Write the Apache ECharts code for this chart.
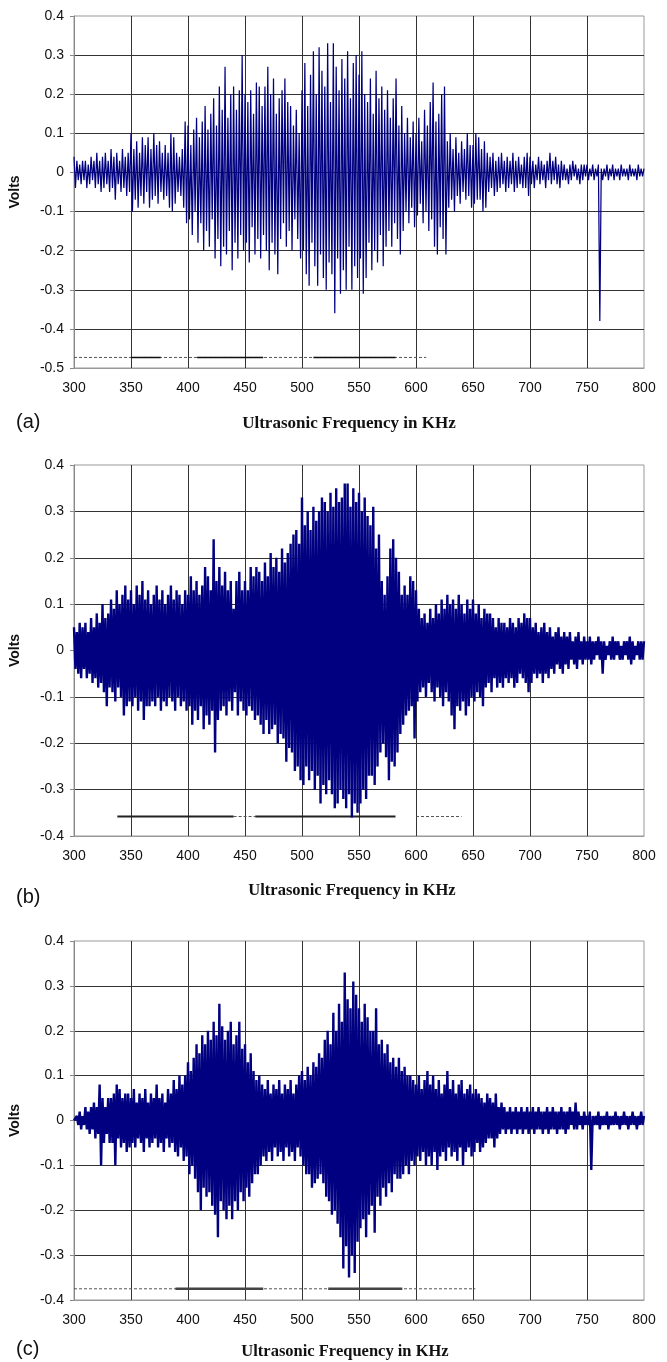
<!DOCTYPE html>
<html>
<head>
<meta charset="utf-8">
<title>Ultrasonic Frequency</title>
<style>
  html, body { margin: 0; padding: 0; background: #fff; }
  #container { width: 667px; height: 1362px; }
</style>
</head>
<body>
<div id="container"></div>
<script src="https://cdn.jsdelivr.net/npm/echarts@6/dist/echarts.min.js"></script>
<script>
var dom = document.getElementById("container");
var myChart = echarts.init(dom, null, { renderer: "canvas" });
var option;

// frequency sampling of the traces (KHz), one peak up and one peak down per step
var freqStart = 300;
var freqEnd = 800;
var freqStep = 2.5;
var freqInterval = 50;

var panelNames = ["(a)", "(b)", "(c)"];
var xTitle = "Ultrasonic Frequency in KHz";
var yTitle = "Volts";
var yMins = [-0.5, -0.4, -0.4];
var yMax = 0.4;
var yInterval = 0.1;

// (a) upper / lower peaks
var waveAHi = [
  0.04,0.03,0.02,0.03,0.03,0.02,0.04,0.03,0.05,0.03,0.04,0.05,0.03,0.06,0.04,0.05,0.03,0.06,0.04,0.05,
  0.10,0.06,0.08,0.05,0.09,0.07,0.09,0.06,0.10,0.07,0.08,0.05,0.07,0.05,0.10,0.09,0.05,0.04,0.06,0.13,
  0.12,0.07,0.11,0.14,0.09,0.13,0.17,0.11,0.15,0.19,0.12,0.22,0.16,0.27,0.14,0.20,0.22,0.16,0.21,0.30,
  0.20,0.18,0.21,0.15,0.23,0.22,0.17,0.22,0.27,0.20,0.24,0.15,0.19,0.21,0.24,0.18,0.17,0.12,0.16,0.10,
  0.21,0.28,0.17,0.25,0.31,0.20,0.32,0.26,0.22,0.33,0.18,0.33,0.27,0.21,0.29,0.24,0.31,0.19,0.28,0.30,
  0.25,0.31,0.20,0.18,0.24,0.15,0.26,0.19,0.22,0.16,0.21,0.14,0.19,0.24,0.12,0.17,0.10,0.14,0.09,0.13,
  0.10,0.14,0.08,0.16,0.12,0.18,0.23,0.13,0.15,0.20,0.22,0.08,0.10,0.06,0.09,0.05,0.08,0.06,0.10,0.07,
  0.07,0.10,0.09,0.06,0.08,0.05,0.04,0.05,0.03,0.04,0.05,0.03,0.04,0.03,0.05,0.03,0.04,0.02,0.04,0.05,
  0.04,0.03,0.02,0.04,0.03,0.02,0.03,0.05,0.03,0.04,0.02,0.03,0.02,0.01,0.02,0.03,0.02,0.01,0.02,0.02,
  0.02,0.01,0.02,0.01,0.02,0.01,0.01,0.02,0.01,0.02,0.01,0.01,0.02,0.01,0.01,0.02,0.01,0.01,0.02,0.01,0.01
];
var waveALo = [
  -0.04,-0.02,-0.03,-0.02,-0.04,-0.03,-0.02,-0.04,-0.03,-0.05,-0.04,-0.03,-0.05,-0.04,-0.07,-0.03,-0.05,-0.04,-0.06,-0.05,
  -0.10,-0.07,-0.09,-0.06,-0.08,-0.05,-0.09,-0.07,-0.06,-0.08,-0.05,-0.07,-0.06,-0.09,-0.10,-0.08,-0.05,-0.06,-0.09,-0.13,
  -0.12,-0.16,-0.10,-0.18,-0.13,-0.20,-0.15,-0.19,-0.12,-0.22,-0.17,-0.24,-0.19,-0.21,-0.15,-0.25,-0.18,-0.22,-0.16,-0.20,
  -0.18,-0.23,-0.14,-0.21,-0.17,-0.22,-0.16,-0.20,-0.25,-0.18,-0.21,-0.26,-0.17,-0.13,-0.19,-0.15,-0.20,-0.12,-0.17,-0.22,
  -0.20,-0.26,-0.29,-0.18,-0.24,-0.29,-0.21,-0.27,-0.30,-0.23,-0.26,-0.36,-0.22,-0.31,-0.25,-0.30,-0.19,-0.30,-0.24,-0.27,
  -0.22,-0.31,-0.27,-0.18,-0.25,-0.20,-0.23,-0.16,-0.24,-0.19,-0.15,-0.19,-0.13,-0.17,-0.21,-0.15,-0.10,-0.13,-0.09,-0.14,
  -0.11,-0.08,-0.13,-0.10,-0.15,-0.12,-0.19,-0.21,-0.14,-0.17,-0.21,-0.09,-0.07,-0.10,-0.06,-0.08,-0.05,-0.07,-0.06,-0.09,
  -0.08,-0.07,-0.07,-0.10,-0.09,-0.05,-0.04,-0.06,-0.05,-0.04,-0.03,-0.05,-0.04,-0.03,-0.05,-0.04,-0.03,-0.04,-0.04,-0.06,
  -0.03,-0.04,-0.02,-0.03,-0.02,-0.04,-0.02,-0.03,-0.02,-0.03,-0.04,-0.02,-0.02,-0.03,-0.02,-0.01,-0.02,-0.03,-0.02,-0.01,
  -0.02,-0.01,-0.02,-0.01,-0.38,-0.02,-0.01,-0.02,-0.01,-0.02,-0.01,-0.02,-0.01,-0.01,-0.02,-0.01,-0.01,-0.02,-0.01,-0.01,-0.01
];

// (b) upper / lower peaks
var waveBHi = [
  0.05,0.04,0.06,0.05,0.06,0.04,0.07,0.05,0.08,0.06,0.10,0.07,0.08,0.11,0.09,0.13,0.10,0.12,0.14,0.11,
  0.13,0.10,0.14,0.12,0.15,0.11,0.13,0.10,0.12,0.14,0.11,0.13,0.10,0.12,0.14,0.11,0.13,0.12,0.10,0.13,
  0.12,0.16,0.13,0.15,0.12,0.14,0.18,0.16,0.13,0.24,0.15,0.18,0.14,0.17,0.13,0.15,0.09,0.15,0.17,0.13,
  0.15,0.13,0.18,0.16,0.18,0.17,0.15,0.19,0.16,0.21,0.18,0.20,0.17,0.22,0.19,0.21,0.23,0.25,0.26,0.23,
  0.33,0.27,0.30,0.26,0.31,0.28,0.30,0.33,0.32,0.30,0.34,0.31,0.35,0.32,0.33,0.36,0.36,0.31,0.35,0.32,
  0.34,0.30,0.33,0.29,0.27,0.31,0.22,0.25,0.15,0.12,0.16,0.22,0.24,0.20,0.17,0.12,0.14,0.12,0.16,0.15,
  0.13,0.09,0.07,0.08,0.06,0.09,0.07,0.10,0.08,0.11,0.09,0.12,0.10,0.11,0.09,0.12,0.10,0.08,0.11,0.09,
  0.11,0.08,0.10,0.07,0.09,0.08,0.08,0.07,0.05,0.07,0.06,0.06,0.05,0.07,0.06,0.05,0.07,0.06,0.08,0.07,
  0.07,0.05,0.06,0.04,0.05,0.06,0.04,0.05,0.03,0.04,0.05,0.03,0.04,0.03,0.04,0.02,0.03,0.04,0.02,0.03,
  0.02,0.03,0.02,0.02,0.03,0.02,0.02,0.01,0.02,0.03,0.02,0.02,0.01,0.02,0.02,0.03,0.02,0.01,0.02,0.02,0.02
];
var waveBLo = [
  -0.04,-0.05,-0.06,-0.04,-0.06,-0.05,-0.07,-0.06,-0.08,-0.07,-0.09,-0.12,-0.08,-0.09,-0.11,-0.08,-0.10,-0.14,-0.12,-0.11,
  -0.12,-0.10,-0.13,-0.11,-0.15,-0.12,-0.12,-0.11,-0.12,-0.10,-0.13,-0.11,-0.12,-0.10,-0.11,-0.13,-0.10,-0.12,-0.11,-0.13,
  -0.12,-0.16,-0.13,-0.15,-0.12,-0.17,-0.14,-0.16,-0.13,-0.22,-0.15,-0.13,-0.12,-0.14,-0.11,-0.13,-0.09,-0.14,-0.11,-0.13,
  -0.14,-0.12,-0.13,-0.15,-0.14,-0.16,-0.18,-0.15,-0.18,-0.17,-0.16,-0.20,-0.18,-0.19,-0.24,-0.21,-0.22,-0.26,-0.25,-0.28,
  -0.29,-0.25,-0.28,-0.26,-0.30,-0.27,-0.33,-0.29,-0.31,-0.28,-0.31,-0.34,-0.33,-0.30,-0.32,-0.34,-0.31,-0.36,-0.33,-0.35,
  -0.33,-0.30,-0.32,-0.27,-0.27,-0.29,-0.25,-0.22,-0.20,-0.23,-0.28,-0.24,-0.25,-0.22,-0.18,-0.16,-0.14,-0.13,-0.12,-0.19,
  -0.11,-0.09,-0.08,-0.10,-0.07,-0.09,-0.11,-0.08,-0.10,-0.12,-0.09,-0.11,-0.14,-0.17,-0.12,-0.13,-0.11,-0.14,-0.12,-0.10,
  -0.11,-0.09,-0.10,-0.12,-0.08,-0.07,-0.09,-0.06,-0.08,-0.07,-0.08,-0.06,-0.07,-0.06,-0.08,-0.07,-0.05,-0.06,-0.07,-0.09,
  -0.07,-0.05,-0.06,-0.05,-0.07,-0.05,-0.06,-0.04,-0.05,-0.03,-0.04,-0.05,-0.03,-0.04,-0.02,-0.03,-0.04,-0.02,-0.03,-0.02,
  -0.02,-0.03,-0.02,-0.01,-0.02,-0.05,-0.02,-0.01,-0.02,-0.02,-0.01,-0.02,-0.02,-0.01,-0.02,-0.03,-0.02,-0.01,-0.02,-0.02,-0.02
];

// (c) upper / lower peaks
var waveCHi = [
  0.00,0.01,0.02,0.01,0.03,0.02,0.03,0.04,0.03,0.08,0.05,0.03,0.05,0.05,0.06,0.08,0.07,0.05,0.06,0.06,
  0.05,0.07,0.04,0.06,0.05,0.07,0.04,0.06,0.05,0.08,0.05,0.06,0.04,0.07,0.06,0.09,0.07,0.10,0.08,0.10,
  0.13,0.11,0.14,0.17,0.15,0.19,0.17,0.20,0.18,0.22,0.19,0.26,0.21,0.18,0.20,0.22,0.17,0.19,0.22,0.16,
  0.17,0.13,0.15,0.11,0.09,0.10,0.08,0.07,0.09,0.06,0.08,0.07,0.09,0.06,0.08,0.07,0.09,0.06,0.08,0.10,
  0.11,0.09,0.12,0.10,0.13,0.12,0.15,0.14,0.18,0.20,0.17,0.24,0.20,0.26,0.22,0.33,0.27,0.25,0.31,0.28,
  0.25,0.22,0.26,0.23,0.20,0.20,0.25,0.17,0.18,0.15,0.17,0.13,0.14,0.12,0.14,0.11,0.12,0.10,0.10,0.09,
  0.08,0.10,0.07,0.09,0.11,0.08,0.10,0.07,0.09,0.06,0.08,0.11,0.07,0.09,0.06,0.08,0.09,0.06,0.07,0.08,
  0.06,0.07,0.06,0.05,0.04,0.06,0.05,0.04,0.06,0.03,0.04,0.03,0.02,0.03,0.02,0.03,0.02,0.03,0.02,0.03,
  0.02,0.03,0.02,0.03,0.02,0.02,0.03,0.02,0.03,0.02,0.02,0.03,0.02,0.02,0.03,0.02,0.04,0.02,0.01,0.02,
  0.01,0.02,0.01,0.01,0.02,0.01,0.01,0.02,0.01,0.01,0.02,0.01,0.01,0.02,0.01,0.01,0.02,0.01,0.01,0.02,0.01
];
var waveCLo = [
  0.00,-0.01,-0.02,-0.01,-0.02,-0.03,-0.02,-0.04,-0.03,-0.10,-0.05,-0.03,-0.05,-0.05,-0.10,-0.04,-0.06,-0.05,-0.07,-0.06,
  -0.05,-0.06,-0.04,-0.05,-0.07,-0.04,-0.06,-0.05,-0.04,-0.06,-0.05,-0.07,-0.04,-0.06,-0.05,-0.07,-0.08,-0.06,-0.09,-0.08,
  -0.12,-0.10,-0.13,-0.16,-0.20,-0.15,-0.17,-0.16,-0.19,-0.21,-0.26,-0.18,-0.20,-0.22,-0.19,-0.22,-0.18,-0.20,-0.16,-0.18,
  -0.15,-0.17,-0.14,-0.12,-0.12,-0.10,-0.08,-0.09,-0.07,-0.09,-0.06,-0.08,-0.07,-0.09,-0.06,-0.08,-0.07,-0.09,-0.06,-0.08,
  -0.10,-0.12,-0.12,-0.15,-0.14,-0.13,-0.12,-0.14,-0.17,-0.18,-0.21,-0.20,-0.23,-0.26,-0.33,-0.28,-0.35,-0.30,-0.34,-0.27,
  -0.24,-0.22,-0.26,-0.21,-0.19,-0.25,-0.17,-0.19,-0.15,-0.17,-0.14,-0.16,-0.12,-0.13,-0.13,-0.12,-0.10,-0.12,-0.09,-0.10,
  -0.08,-0.09,-0.07,-0.10,-0.08,-0.10,-0.07,-0.11,-0.08,-0.07,-0.09,-0.06,-0.08,-0.07,-0.09,-0.06,-0.10,-0.07,-0.06,-0.08,
  -0.07,-0.05,-0.07,-0.06,-0.05,-0.04,-0.04,-0.06,-0.04,-0.03,-0.02,-0.03,-0.02,-0.03,-0.02,-0.03,-0.02,-0.03,-0.02,-0.03,
  -0.02,-0.03,-0.02,-0.02,-0.03,-0.02,-0.03,-0.02,-0.02,-0.03,-0.02,-0.02,-0.03,-0.02,-0.01,-0.02,-0.02,-0.01,-0.02,-0.01,
  -0.01,-0.11,-0.01,-0.01,-0.02,-0.01,-0.01,-0.02,-0.01,-0.01,-0.01,-0.02,-0.01,-0.01,-0.02,-0.01,-0.01,-0.02,-0.01,-0.01,-0.01
];

// horizontal marker bars under each trace: level, solid spans, dashed spans (KHz)
var refLevels = [-0.473, -0.358, -0.375];
var refSolid = [
  [[350, 376], [408, 466], [510, 582]],
  [[338, 440], [459, 582]],
  [[389, 466], [523, 588]]
];
var refDashed = [
  [[300, 609]],
  [[440, 459], [600, 640]],
  [[300, 652]]
];

var waves = [[waveAHi, waveALo], [waveBHi, waveBLo], [waveCHi, waveCLo]];

// panel boxes in px
var grids = [
  { left: 73, right: 23, top: 16, height: 352 },
  { left: 73, right: 23, top: 465, height: 371 },
  { left: 73, right: 23, top: 941, height: 359 }
];
var waveWidths = [1.25, 2.4, 2.4];
var solidStyles = [
  { color: "#111", width: 1.6 },
  { color: "#222", width: 1.8 },
  { color: "#444", width: 2.4 }
];
var labelPos = [
  { tag: [16, 422], title: [349, 424], size: 17 },
  { tag: [16, 897], title: [352, 891], size: 16.5 },
  { tag: [16, 1349], title: [345, 1352], size: 16.5 }
];

function buildWave(hi, lo) {
  var pts = [];
  for (var i = 0; i < hi.length; i++) {
    var f = freqStart + i * freqStep;
    pts.push([f, hi[i]]);
    var f2 = f + freqStep / 2;
    if (i < lo.length && f2 <= freqEnd) {
      pts.push([f2, lo[i]]);
    }
  }
  return pts;
}

var gridList = [];
var xAxisList = [];
var yAxisList = [];
var seriesList = [];
var graphicList = [];

for (let k = 0; k < 3; k++) {
  gridList.push({
    left: grids[k].left,
    right: grids[k].right,
    top: grids[k].top,
    height: grids[k].height,
    show: true,
    borderColor: "#999",
    borderWidth: 1,
    backgroundColor: "#fff"
  });
  xAxisList.push({
    type: "value",
    gridIndex: k,
    min: freqStart,
    max: freqEnd,
    interval: freqInterval,
    axisLine: { show: true, onZero: false, lineStyle: { color: "#999", width: 1 } },
    axisTick: { show: false },
    axisLabel: {
      color: "#111",
      fontFamily: "Liberation Sans, Arial, sans-serif",
      fontSize: 14,
      margin: 13
    },
    splitLine: {
      show: true,
      showMinLine: false,
      showMaxLine: false,
      lineStyle: { color: "#333", width: 1 }
    }
  });
  yAxisList.push({
    type: "value",
    gridIndex: k,
    min: yMins[k],
    max: yMax,
    interval: yInterval,
    name: yTitle,
    nameLocation: "middle",
    nameGap: 52,
    nameTextStyle: {
      color: "#111",
      fontFamily: "Liberation Sans, Arial, sans-serif",
      fontSize: 14,
      fontWeight: "bold"
    },
    axisLine: { show: true, onZero: false, lineStyle: { color: "#888", width: 1 } },
    axisTick: { show: true, length: 4, lineStyle: { color: "#888" } },
    axisLabel: {
      color: "#111",
      fontFamily: "Liberation Sans, Arial, sans-serif",
      fontSize: 14,
      margin: 10,
      formatter: function (v) {
        return String(Math.round(v * 10) / 10);
      }
    },
    splitLine: {
      show: true,
      showMinLine: false,
      showMaxLine: false,
      lineStyle: { color: "#333", width: 1 }
    }
  });

  // dashed marker bars
  refDashed[k].forEach(function (seg) {
    seriesList.push({
      type: "line",
      xAxisIndex: k,
      yAxisIndex: k,
      z: 2,
      silent: true,
      showSymbol: false,
      data: [[seg[0], refLevels[k]], [seg[1], refLevels[k]]],
      lineStyle: { color: "#555", width: 1, type: [3, 2] }
    });
  });
  // solid marker bars
  refSolid[k].forEach(function (seg) {
    seriesList.push({
      type: "line",
      xAxisIndex: k,
      yAxisIndex: k,
      z: 2,
      silent: true,
      showSymbol: false,
      data: [[seg[0], refLevels[k]], [seg[1], refLevels[k]]],
      lineStyle: { color: solidStyles[k].color, width: solidStyles[k].width }
    });
  });

  // the trace
  seriesList.push({
    type: "line",
    xAxisIndex: k,
    yAxisIndex: k,
    z: 3,
    silent: true,
    showSymbol: false,
    clip: true,
    data: buildWave(waves[k][0], waves[k][1]),
    lineStyle: { color: "#000080", width: waveWidths[k] }
  });

  graphicList.push({
    type: "text",
    x: labelPos[k].tag[0],
    y: labelPos[k].tag[1],
    style: {
      text: panelNames[k],
      font: "20px Liberation Sans, Arial, sans-serif",
      fill: "#111",
      align: "left",
      verticalAlign: "middle"
    }
  });
  graphicList.push({
    type: "text",
    x: labelPos[k].title[0],
    y: labelPos[k].title[1],
    style: {
      text: xTitle,
      font: "bold " + labelPos[k].size + "px Liberation Serif, Times New Roman, serif",
      fill: "#111",
      align: "center",
      verticalAlign: "middle"
    }
  });
}

option = {
  backgroundColor: "#fff",
  animation: false,
  grid: gridList,
  xAxis: xAxisList,
  yAxis: yAxisList,
  series: seriesList,
  graphic: graphicList
};

if (option && typeof option === "object") {
  myChart.setOption(option);
}
</script>
</body>
</html>
